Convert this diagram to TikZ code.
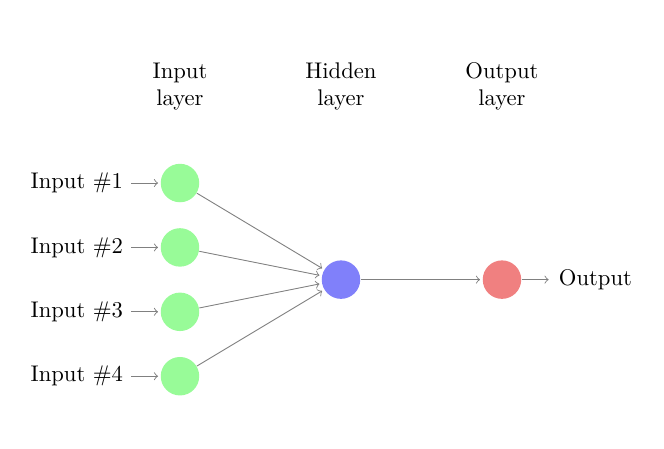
\documentclass[tikz,border=0pt]{standalone}
\usetikzlibrary{positioning}
\definecolor{inpgreen}{RGB}{152,251,152}
\definecolor{outred}{RGB}{240,128,128}
\definecolor{hidblue}{RGB}{128,128,250}
\begin{document}
\begin{tikzpicture}[
  neuron/.style={circle, fill=black!25, minimum size=17pt, inner sep=0pt},
  input neuron/.style={neuron, fill=inpgreen},
  output neuron/.style={neuron, fill=outred},
  hidden neuron/.style={neuron, fill=hidblue},
  annot/.style={text width=4em, text centered},
  conn/.style={->, draw=black!50, shorten >=1pt}
]
\useasboundingbox (-2.795,-4.115) rectangle (7.516,2.842);
\foreach \y in {1,...,4}
  \node[input neuron] (I-\y) at (0,-\y+1) {};
\node[hidden neuron] (H) at (2.5,-1.5) {};
\node[output neuron] (O) at (5,-1.5) {};
\foreach \y in {1,...,4} {
  \node[left=3ex of I-\y] (L-\y) {Input \#\y};
  \draw[conn] (L-\y) -- (I-\y);
  \draw[conn] (I-\y) -- (H);
}
\draw[conn] (H) -- (O);
\node[right=3ex of O] (OL) {Output};
\draw[conn] (O) -- (OL);
\node[annot] (il) at (0,1.5) {Input layer};
\node[annot] (hl) at (2.5,1.5) {Hidden layer};
\node[annot] (ol) at (5,1.5) {Output layer};
\end{tikzpicture}
\end{document}
